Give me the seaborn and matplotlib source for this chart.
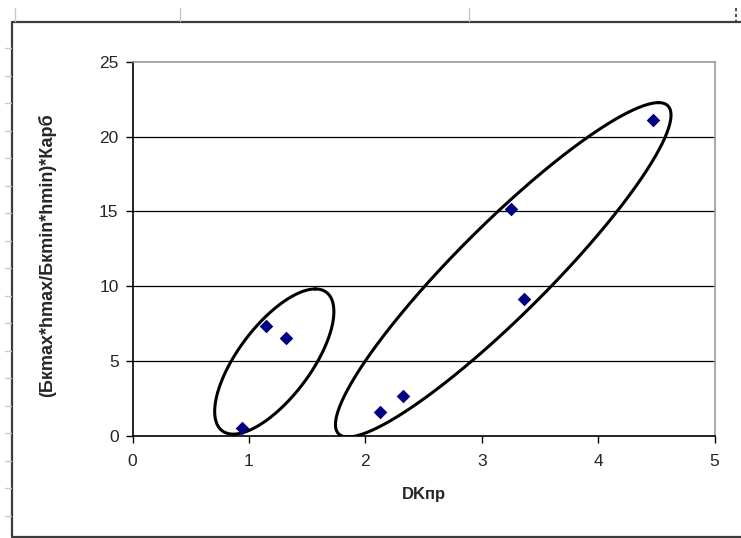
import numpy as np
import pandas as pd
import matplotlib
matplotlib.use("Agg")
import matplotlib.pyplot as plt
from matplotlib.lines import Line2D
import seaborn as sns

# Measured samples
dk_pr = [0.94, 1.15, 1.32, 2.13, 2.32, 3.25, 3.36, 4.47]
ratio = [0.5, 7.3, 6.55, 1.55, 2.65, 15.15, 9.15, 21.1]

x_ticks = [0, 1, 2, 3, 4, 5]
y_ticks = [0, 5, 10, 15, 20, 25]
x_label = "DKпр"
y_label = "(Бкmax*hmax/Бкmin*hmin)*Карб"

# Hand-drawn group outlines: centre and two conjugate half-diameters (data units)
group_centres = [(1.218, 4.95), (3.185, 11.09)]
group_axis_u = [(0.352, 4.86), (1.334, 11.19)]
group_axis_v = [(0.372, 0.0), (0.546, 0.0)]

df = pd.DataFrame({"dk": dk_pr, "ratio": ratio})

sns.set_style("white")
plt.rcParams["font.family"] = ["Liberation Sans", "DejaVu Sans"]

W, H = 741, 538
fig = plt.figure(figsize=(W / 100, H / 100), dpi=100)
ax = fig.add_axes([132.5 / W, 1 - 435.5 / H, 582 / W, 373.5 / H])

ax.set_xlim(x_ticks[0], x_ticks[-1])
ax.set_ylim(y_ticks[0], y_ticks[-1])
ax.set_xticks(x_ticks)
ax.set_yticks(y_ticks)

for yv in y_ticks[1:-1]:
    ax.axhline(yv, color="black", lw=0.9, zorder=1)

t = np.linspace(0, 2 * np.pi, 500)
for (cx, cy), (ux, uy), (vx, vy) in zip(group_centres, group_axis_u, group_axis_v):
    ax.plot(cx + ux * np.cos(t) + vx * np.sin(t),
            cy + uy * np.cos(t) + vy * np.sin(t),
            color="black", lw=2.2, zorder=2, solid_capstyle="round")

sns.scatterplot(data=df, x="dk", y="ratio", marker="D", color="#000080",
                s=48, edgecolor="#000080", linewidth=0, ax=ax, zorder=3,
                clip_on=False)

for side in ("left", "bottom"):
    ax.spines[side].set_color("black")
    ax.spines[side].set_linewidth(1.2)
for side in ("top", "right"):
    ax.spines[side].set_color("#9a9a9a")
    ax.spines[side].set_linewidth(1.2)

ax.tick_params(axis="both", which="both", direction="out", length=5,
               width=1.0, color="black", labelsize=12.5, left=True, bottom=True)
ax.tick_params(axis="x", pad=8)
ax.tick_params(axis="y", pad=5)

ax.set_xlabel(x_label, fontsize=12, fontweight="bold")
ax.set_ylabel(y_label, fontsize=13, fontweight="bold")
ax.xaxis.set_label_coords(0.5, (435.5 - 495) / 373.5)
ax.xaxis.label.set_va("center")
ax.yaxis.set_label_coords((46.7 - 132.5) / 582, (435.5 - 255) / 373.5)
ax.yaxis.label.set_va("center")


def fig_line(xs, ys, **kw):
    fig.add_artist(Line2D([x / W for x in xs], [1 - y / H for y in ys],
                          transform=fig.transFigure, **kw))


# Chart frame
fig_line([11.7, 11.7], [21.7, 536.7], color="#3c3c3c", lw=1.6)
fig_line([11.7, W], [21.7, 21.7], color="#3c3c3c", lw=1.6)
fig_line([11.7, W], [536.7, 536.7], color="#3c3c3c", lw=1.6)

# Sheet grid stubs around the frame
for gx in (15, 180, 469):
    fig_line([gx, gx], [8, 21], color="#c8c8c8", lw=1.0)
fig_line([736, 736], [8, 21], color="#303030", lw=1.2, linestyle=(0, (2, 1.5)))
for gy in np.arange(48, 530, 27.5):
    fig_line([5, 11], [gy, gy], color="#c8c8c8", lw=1.0)

fig.savefig("out.png", dpi=100)
